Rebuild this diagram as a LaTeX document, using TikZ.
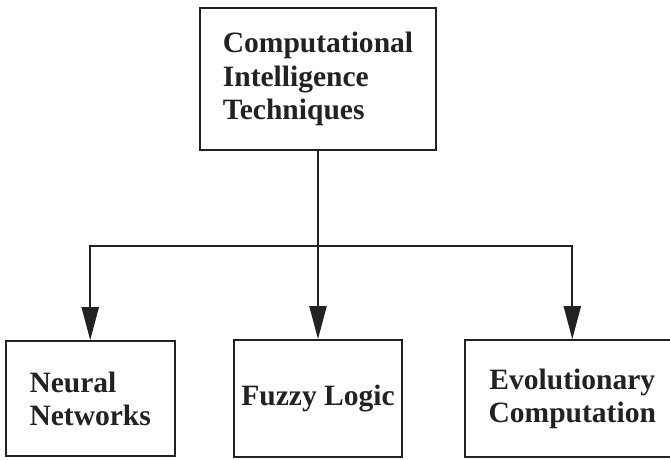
\documentclass[tikz,border=0pt]{standalone}
\usepackage{fontspec}
\setmainfont{Liberation Serif}
\usetikzlibrary{
	arrows.meta,
	positioning,
}
\definecolor{MyInk}{HTML}{222222}

\begin{document}
\begin{tikzpicture}[
		every node/.style={font=\fontsize{16.8}{19}\selectfont\bfseries},
		node distance = 3.76cm and 1.18cm,
		box/.style = {rectangle, draw=MyInk, line width=1.3pt,
			inner sep=0pt, text=MyInk},
		arr/.style = {draw=MyInk, line width=1.2pt,
			-{Triangle[length=6.6mm, width=3.4mm]}},
	]
	\useasboundingbox (0,0) rectangle (13.4,-9.18);
	\node[box, minimum width=4.72cm, minimum height=2.84cm, align=left]
		(top) at (6.36,-1.58) {Computational\\Intelligence\\Techniques};
	\node[box, minimum width=3.36cm, minimum height=2.34cm,
		below=of top] (fuzzy) {Fuzzy Logic};
	\node[box, minimum width=3.38cm, minimum height=2.3cm, align=left,
		left=1.14cm of fuzzy] (neural) {Neural\\Networks};
	\node[box, minimum width=4.28cm, minimum height=2.34cm, align=center,
		right=1.22cm of fuzzy] (evo) {Evolutionary\\Computation};
	% branch point of the tree
	\coordinate (split) at (top.south |- 0,-4.92);
	\draw[arr] (top.south) -- (fuzzy.north);
	\draw[arr] (split) -| (neural.north);
	\draw[arr] (split) -| (evo.north);
\end{tikzpicture}
\end{document}
